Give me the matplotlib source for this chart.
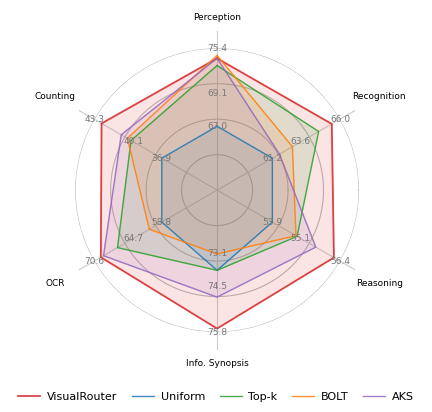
import matplotlib
matplotlib.use("Agg")
import matplotlib.pyplot as plt
import numpy as np

categories = ["Perception", "Recognition", "Reasoning", "Info. Synopsis", "OCR", "Counting"]
axis_ticks = [
    [67.0, 69.1, 75.4],
    [61.2, 63.6, 66.0],
    [53.9, 55.1, 56.4],
    [73.1, 74.5, 75.8],
    [58.8, 64.7, 70.6],
    [36.9, 40.1, 43.3],
]
methods = ["VisualRouter", "Uniform", "Top-k", "BOLT", "AKS"]
visualrouter = [74.0, 65.5, 56.2, 75.7, 69.6, 42.7]
uniform = [67.0, 61.2, 53.9, 73.8, 58.8, 36.9]
topk = [73.0, 64.7, 54.95, 73.8, 67.1, 40.3]
bolt = [74.4, 62.9, 54.9, 73.1, 61.4, 40.6]
aks = [74.0, 61.8, 55.6, 74.8, 69.2, 41.1]
colors = ["#d62728", "#1f77b4", "#2ca02c", "#ff7f0e", "#9467bd"]

tick_radii = [0.45, 0.68, 1.0]
angles = np.pi / 2 - np.arange(len(categories)) * 2 * np.pi / len(categories)


def to_radius(values):
    return [np.interp(v, t, tick_radii) for v, t in zip(values, axis_ticks)]


fig = plt.figure(figsize=(4.32, 4.12), dpi=100)
ax = fig.add_axes([0.174, 0.194, 0.657, 0.689], projection="polar")
ax.set_ylim(0, 1)
ax.set_xticks([])
ax.set_yticks([])
ax.spines["polar"].set_visible(False)
ax.grid(False)

theta = np.linspace(0, 2 * np.pi, 300)
for r in [0.25, 0.5, 0.75, 1.0]:
    ax.plot(theta, [r] * len(theta), color="#bbbbbb", lw=0.8, zorder=1)
for a in angles:
    ax.plot([a, a], [0, 1.12], color="#cccccc", lw=0.8, zorder=1, clip_on=False)

series = [visualrouter, uniform, topk, bolt, aks]
for name, vals, c in zip(methods, series, colors):
    r = to_radius(vals)
    a = np.append(angles, angles[0])
    r = np.append(r, r[0])
    lw = 1.3 if name == "VisualRouter" else 1.0
    ax.plot(a, r, color=c, lw=lw, label=name, zorder=3, alpha=0.85)
    ax.fill(a, r, color=c, alpha=0.12, zorder=2)

for a, ticks in zip(angles, axis_ticks):
    for t, rr in zip(ticks, tick_radii):
        ax.text(a, rr, f"{t:.1f}", color="#777777", fontsize=6.5,
                ha="center", va="center", zorder=4)

label_r = [1.22, 1.32, 1.32, 1.22, 1.32, 1.32]
for a, name, lr in zip(angles, categories, label_r):
    ax.text(a, lr, name, fontsize=6.5, ha="center", va="center", clip_on=False)

fig.legend(loc="lower center", ncol=5, frameon=False, fontsize=8,
           bbox_to_anchor=(0.5, 0.0), handlelength=2.0, columnspacing=1.3,
           handletextpad=0.6)
fig.savefig("out.png", dpi=100)
